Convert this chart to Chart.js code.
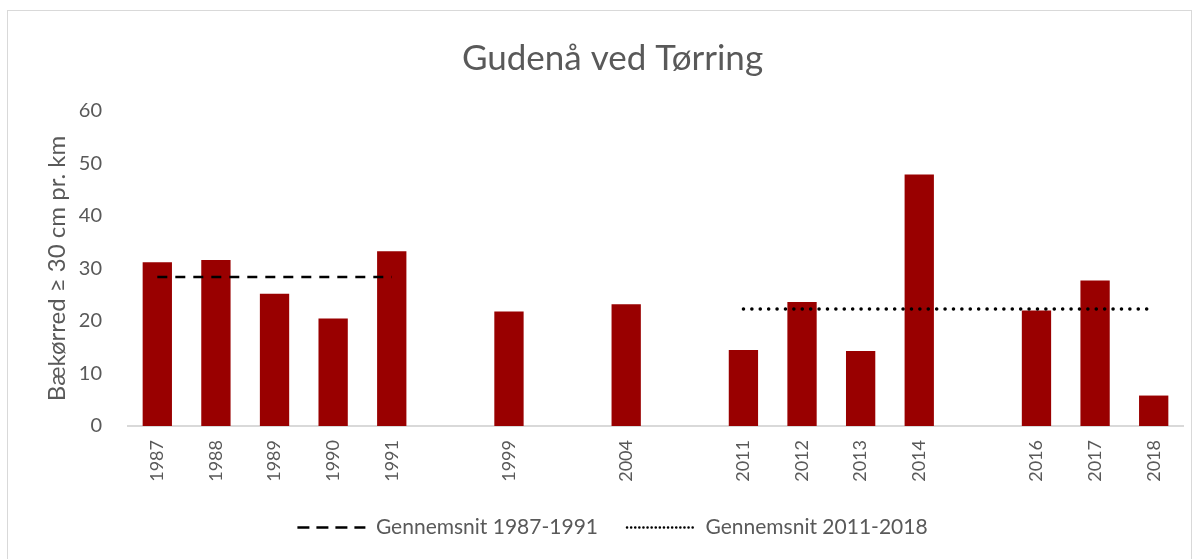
<!DOCTYPE html>
<html lang="da">
<head>
<meta charset="utf-8">
<title>Gudenå ved Tørring</title>
<script src="https://cdn.jsdelivr.net/npm/chart.js@4.4.0/dist/chart.umd.min.js"></script>
<style>
  body { margin: 0; padding: 0; background: #ffffff; }
  #frame {
    position: absolute; left: 7px; top: 10px; width: 1185px; height: 560px;
    border: 1px solid #d9d9d9; box-sizing: border-box;
  }
  #wrap { position: absolute; left: 0; top: 0; width: 1200px; height: 559px; }
</style>
</head>
<body>
<div id="frame"></div>
<div id="wrap"><canvas id="chart"></canvas></div>
<script>
  // categories (empty strings are the gap years shown as blank slots)
  const years = ['1987', '1988', '1989', '1990', '1991', '', '1999', '', '2004', '', '2011', '2012', '2013', '2014', '', '2016', '2017', '2018'];
  // trout >= 30 cm per km
  const trout = [31.2, 31.6, 25.2, 20.5, 33.3, null, 21.8, null, 23.2, null, 14.5, 23.6, 14.3, 47.9, null, 22.0, 27.7, 5.8];
  // averages drawn as horizontal lines
  const avg8791 = [28.4, 28.4, 28.4, 28.4, 28.4, null, null, null, null, null, null, null, null, null, null, null, null, null];
  const avg1118 = [null, null, null, null, null, null, null, null, null, null, 22.3, 22.3, 22.3, 22.3, 22.3, 22.3, 22.3, 22.3];
  const yTicks = [0, 10, 20, 30, 40, 50, 60];

  const grey = '#595959';
  const font = "Lato, 'Open Sans', sans-serif";

  new Chart(document.getElementById('chart'), {
    data: {
      labels: years,
      datasets: [
        {
          type: 'bar',
          label: 'Bækørred',
          data: trout,
          backgroundColor: '#990000',
          barPercentage: 0.5,
          categoryPercentage: 1.0,
          order: 2
        },
        {
          type: 'line',
          label: 'Gennemsnit 1987-1991',
          data: avg8791,
          borderColor: '#000000',
          backgroundColor: '#000000',
          borderWidth: 2.5,
          borderDash: [10, 8],
          pointRadius: 0,
          fill: false,
          order: 1
        },
        {
          type: 'line',
          label: 'Gennemsnit 2011-2018',
          data: avg1118,
          borderColor: '#000000',
          backgroundColor: '#000000',
          borderWidth: 3.5,
          borderDash: [0.1, 8.3],
          borderCapStyle: 'round',
          pointRadius: 0,
          fill: false,
          order: 1
        }
      ]
    },
    options: {
      responsive: true,
      maintainAspectRatio: false,
      animation: false,
      layout: { padding: { left: 42, right: 17, top: 0, bottom: 11 } },
      plugins: {
        title: {
          display: true,
          text: 'Gudenå ved Tørring',
          color: grey,
          font: { family: font, size: 35, weight: '400' },
          padding: { top: 38, bottom: 31 }
        },
        legend: {
          position: 'bottom',
          labels: {
            usePointStyle: true,
            pointStyleWidth: 68,
            color: grey,
            font: { family: font, size: 21 },
            padding: 29,
            generateLabels: chart => [
              {
                text: chart.data.datasets[1].label, datasetIndex: 1, fontColor: grey,
                strokeStyle: '#000000', fillStyle: '#000000', lineWidth: 2.5,
                lineDash: [12, 7], lineCap: 'butt', pointStyle: 'line'
              },
              {
                text: chart.data.datasets[2].label, datasetIndex: 2, fontColor: grey,
                strokeStyle: '#000000', fillStyle: '#000000', lineWidth: 2.5,
                lineDash: [0.1, 4], lineCap: 'round', pointStyle: 'line'
              }
            ]
          }
        },
        tooltip: { enabled: false }
      },
      scales: {
        x: {
          grid: { display: false, drawTicks: false },
          border: { display: true, color: '#d9d9d9', width: 2 },
          afterFit: axis => { axis.height = 62; },
          ticks: {
            color: grey,
            font: { family: font, size: 18 },
            minRotation: 90,
            maxRotation: 90,
            autoSkip: false,
            padding: 14
          }
        },
        y: {
          min: 0,
          max: 60,
          grid: { display: false },
          border: { display: false },
          afterBuildTicks: axis => { axis.ticks = yTicks.map(v => ({ value: v })); },
          afterFit: axis => { axis.width = 86; },
          ticks: {
            color: grey,
            font: { family: font, size: 20 },
            padding: 18
          },
          title: {
            display: true,
            text: 'Bækørred ≥ 30 cm pr. km',
            color: grey,
            font: { family: font, size: 24 },
            padding: { top: 1, bottom: 6 }
          }
        }
      }
    }
  });
</script>
</body>
</html>
